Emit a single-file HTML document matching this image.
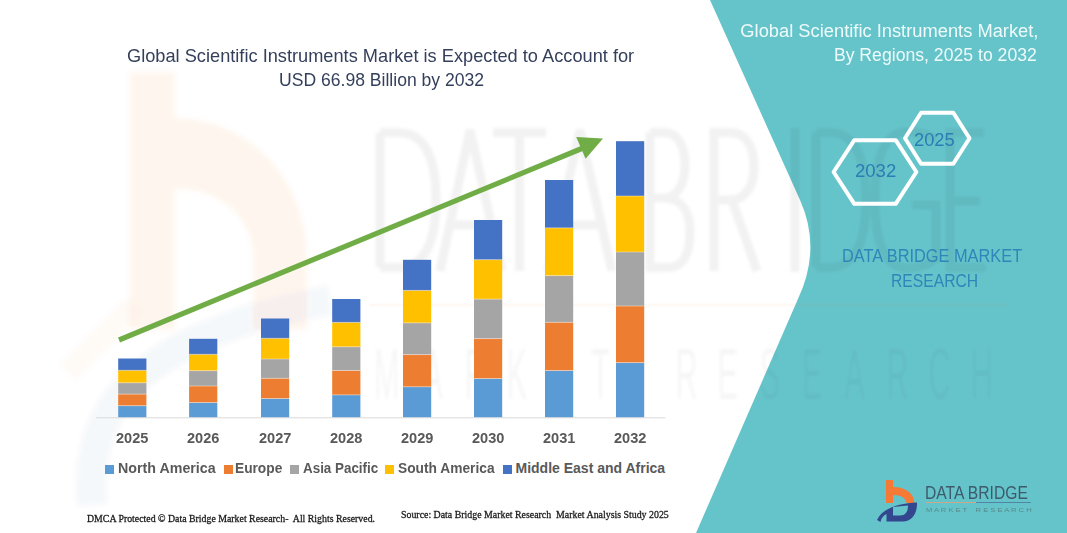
<!DOCTYPE html>
<html><head><meta charset="utf-8"><style>
html,body{margin:0;padding:0;}
body{width:1067px;height:533px;position:relative;overflow:hidden;background:#ffffff;}
.abs{position:absolute;left:0;top:0;}
.t{position:absolute;white-space:nowrap;}
</style></head><body>

<svg class="abs" width="1067" height="533" viewBox="0 0 1067 533">
<defs><filter id="wb2" x="-20%" y="-20%" width="140%" height="140%"><feGaussianBlur stdDeviation="2.5"/></filter></defs>
<g filter="url(#wb2)">
<path fill="rgba(240,120,50,0.065)" d="M130,72 L175,72 L175,118 C250,118 307,180 307,258 L307,330 L253,330 L253,258 C253,222 225,189 175,189 L175,330 L130,330 Z"/>
<path d="M68,372 L135,305" stroke="rgba(240,120,50,0.04)" stroke-width="22" fill="none"/>
<path d="M92,505 C85,420 120,340 330,300" stroke="rgba(50,70,140,0.04)" stroke-width="30" fill="none"/>
</g>
</svg>
<svg class="abs" width="1067" height="533" viewBox="0 0 1067 533">
<path d="M710,0 L800,200 Q822,249 797.5,300 L696,533 L1067,533 L1067,0 Z" fill="#65c4ca"/>
</svg>
<svg class="abs" width="1067" height="533" viewBox="0 0 1067 533">
<defs><filter id="wb" x="-10%" y="-10%" width="120%" height="120%"><feGaussianBlur stdDeviation="1.6"/></filter></defs>
<g fill="none" stroke="rgba(0,0,0,0.05)" stroke-width="9" stroke-linejoin="miter" filter="url(#wb)">
<path d="M380,132.5 L380,267.5 M380,132.5 L398,132.5 C428,132.5 436,165 436,200 C436,235 428,267.5 398,267.5 L380,267.5"/>
<path d="M440,271 L470,130 L502,271 M452,225 L490,225"/>
<path d="M493,132.5 L546,132.5 M519.5,132.5 L519.5,271"/>
<path d="M548,271 L580,130 L612,271 M560,225 L600,225"/>
<path d="M650,132.5 L650,267.5 L668,267.5 C685,267.5 690,250 690,232 C690,212 682,198 664,198 L650,198 M650,132.5 L664,132.5 C680,132.5 685,150 685,165 C685,182 678,198 664,198"/>
<path d="M714,271 L714,132.5 L730,132.5 C748,132.5 754,150 754,167 C754,185 746,200 730,200 L714,200 M732,200 L757,271"/>
<path d="M795,128 L795,272"/>
<path d="M816,132.5 L816,267.5 M816,132.5 L830,132.5 C858,132.5 866,165 866,200 C866,235 858,267.5 830,267.5 L816,267.5"/>
<path d="M936,140 C930,134 920,132 906,132 C882,132 875,165 875,200 C875,240 884,268 906,268 C920,268 930,264 936,258 L936,205 L912,205"/>
<path d="M984,132.5 L950,132.5 L950,267.5 L986,267.5 M950,201 L980,201"/>
</g>
<line x1="370" y1="305" x2="1008" y2="305" stroke="rgba(240,130,60,0.05)" stroke-width="3"/>
<g font-family="Liberation Sans" font-size="72.7" fill="rgba(0,0,0,0.035)" filter="url(#wb)"><text x="374.0" y="399.5" transform="translate(374.0,399.5) scale(0.42,1) translate(-374.0,-399.5)">M</text><text x="422.2" y="399.5" transform="translate(422.2,399.5) scale(0.42,1) translate(-422.2,-399.5)">A</text><text x="464.4" y="399.5" transform="translate(464.4,399.5) scale(0.42,1) translate(-464.4,-399.5)">R</text><text x="506.6" y="399.5" transform="translate(506.6,399.5) scale(0.42,1) translate(-506.6,-399.5)">K</text><text x="548.8" y="399.5" transform="translate(548.8,399.5) scale(0.42,1) translate(-548.8,-399.5)">E</text><text x="591.0" y="399.5" transform="translate(591.0,399.5) scale(0.42,1) translate(-591.0,-399.5)">T</text><text x="675.4" y="399.5" transform="translate(675.4,399.5) scale(0.42,1) translate(-675.4,-399.5)">R</text><text x="717.6" y="399.5" transform="translate(717.6,399.5) scale(0.42,1) translate(-717.6,-399.5)">E</text><text x="759.8" y="399.5" transform="translate(759.8,399.5) scale(0.42,1) translate(-759.8,-399.5)">S</text><text x="802.0" y="399.5" transform="translate(802.0,399.5) scale(0.42,1) translate(-802.0,-399.5)">E</text><text x="844.2" y="399.5" transform="translate(844.2,399.5) scale(0.42,1) translate(-844.2,-399.5)">A</text><text x="886.4" y="399.5" transform="translate(886.4,399.5) scale(0.42,1) translate(-886.4,-399.5)">R</text><text x="928.6" y="399.5" transform="translate(928.6,399.5) scale(0.42,1) translate(-928.6,-399.5)">C</text><text x="970.8" y="399.5" transform="translate(970.8,399.5) scale(0.42,1) translate(-970.8,-399.5)">H</text></g>
</svg>
<svg class="abs" width="1067" height="533" viewBox="0 0 1067 533">
<line x1="96" y1="417.8" x2="665.5" y2="417.8" stroke="#d9d9d9" stroke-width="1"/>
<rect x="118.2" y="405.7" width="28.2" height="11.50" fill="#5b9bd5"/>
<rect x="118.2" y="394.1" width="28.2" height="11.60" fill="#ed7d31"/>
<rect x="118.2" y="382.8" width="28.2" height="11.30" fill="#a5a5a5"/>
<rect x="118.2" y="370.3" width="28.2" height="12.50" fill="#ffc000"/>
<rect x="118.2" y="358.5" width="28.2" height="11.80" fill="#4472c4"/>
<rect x="118.2" y="405.20" width="28.2" height="1" fill="rgba(255,240,225,0.45)"/>
<rect x="118.2" y="393.60" width="28.2" height="1" fill="rgba(255,240,225,0.45)"/>
<rect x="118.2" y="382.30" width="28.2" height="1" fill="rgba(255,240,225,0.45)"/>
<rect x="118.2" y="369.80" width="28.2" height="1" fill="rgba(255,240,225,0.45)"/>
<rect x="189.1" y="402.5" width="28.2" height="14.70" fill="#5b9bd5"/>
<rect x="189.1" y="386.0" width="28.2" height="16.50" fill="#ed7d31"/>
<rect x="189.1" y="370.7" width="28.2" height="15.30" fill="#a5a5a5"/>
<rect x="189.1" y="354.3" width="28.2" height="16.40" fill="#ffc000"/>
<rect x="189.1" y="338.8" width="28.2" height="15.50" fill="#4472c4"/>
<rect x="189.1" y="402.00" width="28.2" height="1" fill="rgba(255,240,225,0.45)"/>
<rect x="189.1" y="385.50" width="28.2" height="1" fill="rgba(255,240,225,0.45)"/>
<rect x="189.1" y="370.20" width="28.2" height="1" fill="rgba(255,240,225,0.45)"/>
<rect x="189.1" y="353.80" width="28.2" height="1" fill="rgba(255,240,225,0.45)"/>
<rect x="261.0" y="398.5" width="28.2" height="18.70" fill="#5b9bd5"/>
<rect x="261.0" y="378.3" width="28.2" height="20.20" fill="#ed7d31"/>
<rect x="261.0" y="359.0" width="28.2" height="19.30" fill="#a5a5a5"/>
<rect x="261.0" y="338.3" width="28.2" height="20.70" fill="#ffc000"/>
<rect x="261.0" y="318.5" width="28.2" height="19.80" fill="#4472c4"/>
<rect x="261.0" y="398.00" width="28.2" height="1" fill="rgba(255,240,225,0.45)"/>
<rect x="261.0" y="377.80" width="28.2" height="1" fill="rgba(255,240,225,0.45)"/>
<rect x="261.0" y="358.50" width="28.2" height="1" fill="rgba(255,240,225,0.45)"/>
<rect x="261.0" y="337.80" width="28.2" height="1" fill="rgba(255,240,225,0.45)"/>
<rect x="332.2" y="394.9" width="28.2" height="22.30" fill="#5b9bd5"/>
<rect x="332.2" y="370.5" width="28.2" height="24.40" fill="#ed7d31"/>
<rect x="332.2" y="346.8" width="28.2" height="23.70" fill="#a5a5a5"/>
<rect x="332.2" y="322.4" width="28.2" height="24.40" fill="#ffc000"/>
<rect x="332.2" y="299.0" width="28.2" height="23.40" fill="#4472c4"/>
<rect x="332.2" y="394.40" width="28.2" height="1" fill="rgba(255,240,225,0.45)"/>
<rect x="332.2" y="370.00" width="28.2" height="1" fill="rgba(255,240,225,0.45)"/>
<rect x="332.2" y="346.30" width="28.2" height="1" fill="rgba(255,240,225,0.45)"/>
<rect x="332.2" y="321.90" width="28.2" height="1" fill="rgba(255,240,225,0.45)"/>
<rect x="403.0" y="386.8" width="28.2" height="30.40" fill="#5b9bd5"/>
<rect x="403.0" y="354.6" width="28.2" height="32.20" fill="#ed7d31"/>
<rect x="403.0" y="322.9" width="28.2" height="31.70" fill="#a5a5a5"/>
<rect x="403.0" y="290.4" width="28.2" height="32.50" fill="#ffc000"/>
<rect x="403.0" y="259.8" width="28.2" height="30.60" fill="#4472c4"/>
<rect x="403.0" y="386.30" width="28.2" height="1" fill="rgba(255,240,225,0.45)"/>
<rect x="403.0" y="354.10" width="28.2" height="1" fill="rgba(255,240,225,0.45)"/>
<rect x="403.0" y="322.40" width="28.2" height="1" fill="rgba(255,240,225,0.45)"/>
<rect x="403.0" y="289.90" width="28.2" height="1" fill="rgba(255,240,225,0.45)"/>
<rect x="474.0" y="378.5" width="28.2" height="38.70" fill="#5b9bd5"/>
<rect x="474.0" y="338.6" width="28.2" height="39.90" fill="#ed7d31"/>
<rect x="474.0" y="299.1" width="28.2" height="39.50" fill="#a5a5a5"/>
<rect x="474.0" y="259.7" width="28.2" height="39.40" fill="#ffc000"/>
<rect x="474.0" y="220.0" width="28.2" height="39.70" fill="#4472c4"/>
<rect x="474.0" y="378.00" width="28.2" height="1" fill="rgba(255,240,225,0.45)"/>
<rect x="474.0" y="338.10" width="28.2" height="1" fill="rgba(255,240,225,0.45)"/>
<rect x="474.0" y="298.60" width="28.2" height="1" fill="rgba(255,240,225,0.45)"/>
<rect x="474.0" y="259.20" width="28.2" height="1" fill="rgba(255,240,225,0.45)"/>
<rect x="545.0" y="370.5" width="28.2" height="46.70" fill="#5b9bd5"/>
<rect x="545.0" y="322.3" width="28.2" height="48.20" fill="#ed7d31"/>
<rect x="545.0" y="275.6" width="28.2" height="46.70" fill="#a5a5a5"/>
<rect x="545.0" y="227.9" width="28.2" height="47.70" fill="#ffc000"/>
<rect x="545.0" y="180.0" width="28.2" height="47.90" fill="#4472c4"/>
<rect x="545.0" y="370.00" width="28.2" height="1" fill="rgba(255,240,225,0.45)"/>
<rect x="545.0" y="321.80" width="28.2" height="1" fill="rgba(255,240,225,0.45)"/>
<rect x="545.0" y="275.10" width="28.2" height="1" fill="rgba(255,240,225,0.45)"/>
<rect x="545.0" y="227.40" width="28.2" height="1" fill="rgba(255,240,225,0.45)"/>
<rect x="616.0" y="362.6" width="28.2" height="54.60" fill="#5b9bd5"/>
<rect x="616.0" y="306.0" width="28.2" height="56.60" fill="#ed7d31"/>
<rect x="616.0" y="252.0" width="28.2" height="54.00" fill="#a5a5a5"/>
<rect x="616.0" y="196.0" width="28.2" height="56.00" fill="#ffc000"/>
<rect x="616.0" y="141.2" width="28.2" height="54.80" fill="#4472c4"/>
<rect x="616.0" y="362.10" width="28.2" height="1" fill="rgba(255,240,225,0.45)"/>
<rect x="616.0" y="305.50" width="28.2" height="1" fill="rgba(255,240,225,0.45)"/>
<rect x="616.0" y="251.50" width="28.2" height="1" fill="rgba(255,240,225,0.45)"/>
<rect x="616.0" y="195.50" width="28.2" height="1" fill="rgba(255,240,225,0.45)"/>
</svg>
<svg class="abs" width="1067" height="533" viewBox="0 0 1067 533">
<line x1="119" y1="340" x2="583" y2="148" stroke="#70ad47" stroke-width="5.2"/>
<polygon points="603,138.6 576.2,136.9 585.6,158.8" fill="#70ad47"/>
</svg>
<svg class="abs" width="1067" height="533" viewBox="0 0 1067 533"><polygon points="833.6,172.0 854.3,140.2 895.7,140.2 916.4,172.0 895.7,203.8 854.3,203.8" fill="none" stroke="#ffffff" stroke-width="4.0" stroke-linejoin="round"/><polygon points="905.0,138.3 921.1,112.8 953.3,112.8 969.5,138.3 953.3,163.8 921.1,163.8" fill="none" stroke="#ffffff" stroke-width="4.0" stroke-linejoin="round"/></svg>
<div class="abs" style="left:105px;top:464.5px;width:8.6px;height:9px;background:#5b9bd5"></div>
<div class="abs" style="left:224px;top:464.5px;width:8.6px;height:9px;background:#ed7d31"></div>
<div class="abs" style="left:290.3px;top:464.5px;width:8.6px;height:9px;background:#a5a5a5"></div>
<div class="abs" style="left:385px;top:464.5px;width:8.6px;height:9px;background:#ffc000"></div>
<div class="abs" style="left:503.4px;top:464.5px;width:8.6px;height:9px;background:#4472c4"></div>
<div class="t" style="left:126.70px;top:46.05px;font:normal 17.9px/21.48px 'Liberation Sans', sans-serif;color:#343f5b;transform:scaleX(1.018);transform-origin:0 0;">Global Scientific Instruments Market is Expected to Account for</div>
<div class="t" style="left:278.50px;top:69.55px;font:normal 17.9px/21.48px 'Liberation Sans', sans-serif;color:#343f5b;transform:scaleX(0.982);transform-origin:0 0;">USD 66.98 Billion by 2032</div>
<div class="t" style="right:28.60px;top:19.42px;font:normal 19.2px/23.04px 'Liberation Sans', sans-serif;color:#eefafa;transform:scaleX(0.954);transform-origin:100% 0;">Global Scientific Instruments Market,</div>
<div class="t" style="right:29.70px;top:43.42px;font:normal 19.2px/23.04px 'Liberation Sans', sans-serif;color:#eefafa;transform:scaleX(0.919);transform-origin:100% 0;">By Regions, 2025 to 2032</div>
<div class="t" style="left:842.40px;top:245.19px;font:normal 18.6px/22.32px 'Liberation Sans', sans-serif;color:#2f86b8;transform:scaleX(0.879);transform-origin:0 0;">DATA BRIDGE MARKET</div>
<div class="t" style="left:890.60px;top:269.59px;font:normal 18.6px/22.32px 'Liberation Sans', sans-serif;color:#2f86b8;transform:scaleX(0.843);transform-origin:0 0;">RESEARCH</div>
<div class="t" style="left:855.00px;top:161.26px;font:normal 18.0px/21.60px 'Liberation Sans', sans-serif;color:#2b7db4;transform:scaleX(1.03);transform-origin:0 0;">2032</div>
<div class="t" style="left:913.50px;top:128.80px;font:normal 18.7px/22.44px 'Liberation Sans', sans-serif;color:#2b7db4;transform:scaleX(0.98);transform-origin:0 0;">2025</div>
<div class="t" style="left:116.20px;top:429.95px;font:bold 14px/16.80px 'Liberation Sans', sans-serif;color:#595959;transform:scaleX(1.04);transform-origin:0 0;">2025</div>
<div class="t" style="left:187.10px;top:429.95px;font:bold 14px/16.80px 'Liberation Sans', sans-serif;color:#595959;transform:scaleX(1.04);transform-origin:0 0;">2026</div>
<div class="t" style="left:259.00px;top:429.95px;font:bold 14px/16.80px 'Liberation Sans', sans-serif;color:#595959;transform:scaleX(1.04);transform-origin:0 0;">2027</div>
<div class="t" style="left:330.20px;top:429.95px;font:bold 14px/16.80px 'Liberation Sans', sans-serif;color:#595959;transform:scaleX(1.04);transform-origin:0 0;">2028</div>
<div class="t" style="left:401.00px;top:429.95px;font:bold 14px/16.80px 'Liberation Sans', sans-serif;color:#595959;transform:scaleX(1.04);transform-origin:0 0;">2029</div>
<div class="t" style="left:472.00px;top:429.95px;font:bold 14px/16.80px 'Liberation Sans', sans-serif;color:#595959;transform:scaleX(1.04);transform-origin:0 0;">2030</div>
<div class="t" style="left:543.00px;top:429.95px;font:bold 14px/16.80px 'Liberation Sans', sans-serif;color:#595959;transform:scaleX(1.04);transform-origin:0 0;">2031</div>
<div class="t" style="left:614.00px;top:429.95px;font:bold 14px/16.80px 'Liberation Sans', sans-serif;color:#595959;transform:scaleX(1.04);transform-origin:0 0;">2032</div>
<div class="t" style="left:117.60px;top:459.55px;font:bold 14px/16.80px 'Liberation Sans', sans-serif;color:#595959;transform:scaleX(1.018);transform-origin:0 0;">North America</div>
<div class="t" style="left:234.90px;top:459.55px;font:bold 14px/16.80px 'Liberation Sans', sans-serif;color:#595959;transform:scaleX(0.98);transform-origin:0 0;">Europe</div>
<div class="t" style="left:303.00px;top:459.55px;font:bold 14px/16.80px 'Liberation Sans', sans-serif;color:#595959;transform:scaleX(0.957);transform-origin:0 0;">Asia Pacific</div>
<div class="t" style="left:397.50px;top:459.55px;font:bold 14px/16.80px 'Liberation Sans', sans-serif;color:#595959;transform:scaleX(0.983);transform-origin:0 0;">South America</div>
<div class="t" style="left:515.50px;top:459.55px;font:bold 14px/16.80px 'Liberation Sans', sans-serif;color:#595959;transform:scaleX(1.0);transform-origin:0 0;">Middle East and Africa</div>
<div class="t" style="left:87.30px;top:511.78px;font:normal 10.8px/12.96px 'Liberation Serif', serif;color:#1a1a1a;transform:scaleX(0.911);transform-origin:0 0;-webkit-text-stroke:0.3px #1a1a1a;">DMCA Protected © Data Bridge Market Research-&nbsp; All Rights Reserved.</div>
<div class="t" style="left:401.10px;top:508.38px;font:normal 10.8px/12.96px 'Liberation Serif', serif;color:#1a1a1a;transform:scaleX(0.914);transform-origin:0 0;-webkit-text-stroke:0.3px #1a1a1a;">Source: Data Bridge Market Research&nbsp; Market Analysis Study 2025</div>
<svg class="abs" width="1067" height="533" viewBox="0 0 1067 533">
<path d="M886,480 L893,480 L893,487 C905,487 914,493 914.5,503 L906.5,503 C906,498 901,495 893,495 L893,503 L886,503 Z" fill="#f47a35"/>
<path d="M877,520 C882,509 897,503.5 917,502.5 C917.5,513 912,521.5 903,521.5 L886.5,521.5 L886.5,514 C883,516 881,518.5 880.5,522 Z M893,507 L908,505.5 C908,511 906,515.5 900,515.5 L893,515.5 Z" fill="#33478f" fill-rule="evenodd"/>
<rect x="925.6" y="502" width="50.4" height="1" fill="#c9a98a"/>
<rect x="976" y="502" width="54.8" height="1" fill="#4f86a8"/>
</svg>
<div class="t" style="left:924.60px;top:483.47px;font:normal 18.2px/21.84px 'Liberation Sans', sans-serif;color:#3d5b6c;transform:scaleX(0.86);transform-origin:0 0;">DATA BRIDGE</div>
<div class="t" style="left:925.60px;top:505.63px;font:normal 6.2px/7.44px 'Liberation Sans', sans-serif;color:#5a8a8a;transform:scaleX(1.228);transform-origin:0 0;">M A R K E T &nbsp;&nbsp; R E S E A R C H</div>
</body></html>
